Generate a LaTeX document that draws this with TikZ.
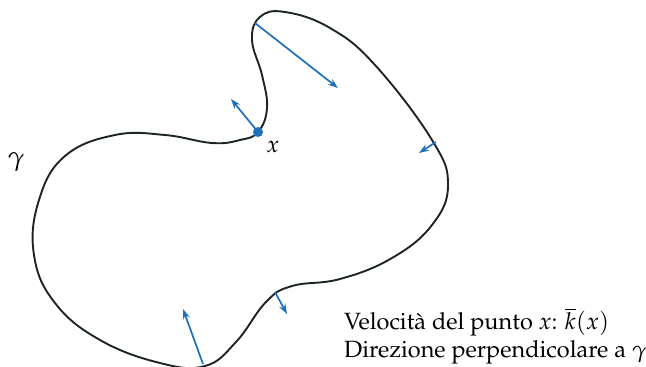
\documentclass[tikz,border=0pt]{standalone}
\usepackage[T1]{fontenc}
\usepackage{mathpazo}
\usepackage{tikz}
\usetikzlibrary{arrows.meta,positioning}
\definecolor{curveblack}{HTML}{1C2424}
\definecolor{normalblue}{HTML}{2070B8}

\begin{document}
\begin{tikzpicture}[
  x=1pt, y=-1pt,
  curve/.style={draw=curveblack, line width=1.9pt},
  normal/.style={-{Stealth[length=10pt,width=7pt]}, draw=normalblue, line width=1.7pt},
  textlab/.style={font=\fontsize{23.5}{28}\selectfont, inner sep=0pt},
]
\useasboundingbox (0,0) rectangle (646,367);

% the closed curve gamma
\draw[curve] plot[smooth cycle, tension=0.7] coordinates {
  (258,132) (267,108) (262,75) (252,40) (260,17) (285,12) (330,28) (375,65)
  (432,140) (448,185) (432,225) (392,258) (340,279) (292,286) (266,302)
  (236,342) (205,366) (160,363) (100,340) (55,303) (34,255) (39,200)
  (65,156) (115,135) (165,135) (212,143) (240,140)
};

% normal speeds
\coordinate (px)  at (258,132);
\coordinate (pxe) at (231,99);
\coordinate (pt)  at (255,23);
\coordinate (pte) at (338,88);
\coordinate (pr)  at (436,142);
\coordinate (pre) at (419,153);
\coordinate (pb)  at (203,364);
\coordinate (pbe) at (183,309);
\coordinate (pm)  at (275,292);
\coordinate (pme) at (287,314);

\draw[normal] (px) -- (pxe);
\draw[normal] (pt) -- (pte);
\draw[normal] (pr) -- (pre);
\draw[normal] (pb) -- (pbe);
\draw[normal] (pm) -- (pme);
\fill[normalblue] (px) circle (5pt);

\node[textlab] (xlab) at (273,147) {$x$};
\node[textlab, font=\fontsize{27}{28}\selectfont] (gam) at (16,162) {$\gamma$};
\node[textlab, anchor=west, align=left] (legend) at (344,336)
  {Velocità del punto $x$: $\overline{k}(x)$\\Direzione perpendicolare a $\gamma$};

\end{tikzpicture}
\end{document}
